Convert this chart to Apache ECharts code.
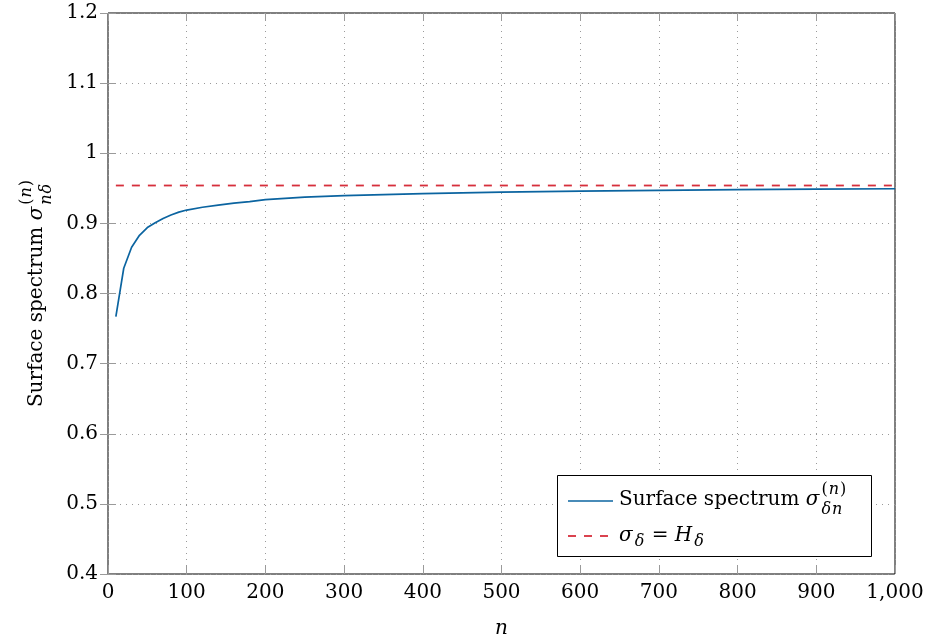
<!DOCTYPE html>
<html>
<head>
<meta charset="utf-8">
<script src="https://cdn.jsdelivr.net/npm/echarts@6/dist/echarts.min.js"></script>
<style>
  html, body { margin: 0; padding: 0; background: #fff; }
  #chart { width: 928px; height: 644px; }
</style>
</head>
<body>
<div id="chart"></div>
<script>
// Truncated surface spectrum against the number of terms n
const nValues = [10, 20, 30, 40, 50, 60, 70, 80, 90, 100,
                 120, 140, 160, 180, 200, 250, 300, 350, 400, 450,
                 500, 600, 700, 800, 900, 1000];
const surfaceSpectrum = [0.767, 0.836, 0.866, 0.883, 0.894, 0.901, 0.907, 0.912, 0.916, 0.919,
                         0.923, 0.926, 0.929, 0.931, 0.934, 0.9375, 0.9395, 0.941, 0.9425, 0.9435,
                         0.9445, 0.946, 0.947, 0.948, 0.9487, 0.9494];
// Limiting value sigma_delta = H_delta, drawn over the same n range
const limitRange = [10, 1000];
const limitValue = 0.954;

const xTickLabels = ['0', '100', '200', '300', '400', '500', '600', '700', '800', '900', '1,000'];
const yTickLabels = ['0.4', '0.5', '0.6', '0.7', '0.8', '0.9', '1', '1.1', '1.2'];

const FONT = '"DejaVu Serif", "Liberation Serif", serif';
const FS = 20;
const SS = 16;          // script size
const BLUE = '#0b64a0';
const RED = '#d62f3c';
const GRID_COLOR = '#9a9a9a';

const chart = echarts.init(document.getElementById('chart'), null, { renderer: 'canvas' });

// Text measuring for the hand-set math labels (sub/superscripts)
const mctx = document.createElement('canvas').getContext('2d');
function measure(t, size, it) {
  mctx.font = (it ? 'italic ' : '') + size + 'px ' + FONT;
  return mctx.measureText(t).width;
}
function txt(t, x, baseline, size, it) {
  return {
    type: 'text', x: x, y: baseline - 0.3 * size,
    style: {
      text: t, fontSize: size, fontFamily: FONT, fontStyle: it ? 'italic' : 'normal',
      fill: '#000', align: 'left', verticalAlign: 'middle'
    }
  };
}
// Lay out runs on a baseline at y = 0; a run is {t, it} or {sub: [...], sup: [...]}
function mathText(parts, size) {
  const els = [];
  let x = 0;
  function runRow(runs, x0, baseline, s) {
    let xx = x0;
    runs.forEach(r => { els.push(txt(r.t, xx, baseline, s, r.it)); xx += measure(r.t, s, r.it) + 1; });
    return xx - x0;
  }
  parts.forEach(p => {
    if (p.t !== undefined) {
      els.push(txt(p.t, x, 0, size, p.it));
      x += measure(p.t, size, p.it);
    } else {
      let w = 0;
      const subDrop = p.sup ? 0.42 * size : 0.25 * size;
      if (p.sub) w = Math.max(w, runRow(p.sub, x + 2, subDrop, SS));
      if (p.sup) w = Math.max(w, runRow(p.sup, x + 2, -0.55 * size, SS));
      x += w + 2;
    }
  });
  return { els: els, width: x };
}

const supN = [{ t: '(' }, { t: 'n', it: true }, { t: ')' }];
const yName = mathText([
  { t: 'Surface spectrum ' }, { t: 'σ', it: true },
  { sub: [{ t: 'n', it: true }, { t: 'δ', it: true }], sup: supN }
], FS);
const leg1 = mathText([
  { t: 'Surface spectrum ' }, { t: 'σ', it: true },
  { sub: [{ t: 'δ', it: true }, { t: 'n', it: true }], sup: supN }
], FS);
const leg2 = mathText([
  { t: 'σ', it: true }, { sub: [{ t: 'δ', it: true }] },
  { t: ' = ' }, { t: 'H', it: true }, { sub: [{ t: 'δ', it: true }] }
], FS);

function shift(els, dx, dy) {
  return els.map(e => Object.assign({}, e, { x: e.x + dx, y: e.y + dy, z: 11 }));
}

const tickStyle = { show: true, inside: true, length: 8, lineStyle: { color: GRID_COLOR, width: 1 } };
const labelFont = { fontFamily: FONT, fontSize: FS, color: '#000' };

const option = {
  animation: false,
  backgroundColor: '#fff',
  grid: { left: 108, right: 33, top: 13, bottom: 70, show: true, borderColor: '#000', borderWidth: 1, backgroundColor: 'transparent' },
  xAxis: [
    {
      type: 'value', min: 0, max: 1000, interval: 100, position: 'bottom',
      axisLine: { show: false },
      axisTick: tickStyle,
      axisLabel: Object.assign({ margin: 9, formatter: v => xTickLabels[Math.round(v / 100)] }, labelFont),
      splitLine: { show: true, lineStyle: { type: [1, 5], color: GRID_COLOR, width: 1 } },
      name: 'n', nameLocation: 'middle', nameGap: 45,
      nameTextStyle: { fontFamily: FONT, fontSize: FS, fontStyle: 'italic', color: '#000' }
    },
    {
      type: 'value', min: 0, max: 1000, interval: 100, position: 'top',
      axisLine: { show: false }, axisTick: tickStyle,
      axisLabel: { show: false }, splitLine: { show: false }
    }
  ],
  yAxis: [
    {
      type: 'value', min: 0.4, max: 1.2, interval: 0.1, position: 'left',
      axisLine: { show: false },
      axisTick: tickStyle,
      axisLabel: Object.assign({ margin: 10, formatter: v => yTickLabels[Math.round((v - 0.4) * 10)] }, labelFont),
      splitLine: { show: true, lineStyle: { type: [1, 5], color: GRID_COLOR, width: 1 } }
    },
    {
      type: 'value', min: 0.4, max: 1.2, interval: 0.1, position: 'right',
      axisLine: { show: false }, axisTick: tickStyle,
      axisLabel: { show: false }, splitLine: { show: false }
    }
  ],
  series: [
    {
      name: 'Surface spectrum', type: 'line', xAxisIndex: 0, yAxisIndex: 0,
      data: nValues.map((n, i) => [n, surfaceSpectrum[i]]),
      showSymbol: false, symbol: 'none', smooth: false, z: 3,
      lineStyle: { color: BLUE, width: 1.7 }
    },
    {
      name: 'Limit', type: 'line', xAxisIndex: 0, yAxisIndex: 0,
      data: limitRange.map(n => [n, limitValue]),
      showSymbol: false, symbol: 'none', z: 4,
      lineStyle: { color: RED, width: 1.8, type: [8, 8] }
    }
  ],
  graphic: [
    // rotated y-axis title
    {
      type: 'group', x: 43, y: 293 + yName.width / 2, rotation: Math.PI / 2,
      children: yName.els
    },
    // legend box
    {
      type: 'group', x: 0, y: 0,
      children: [
        { type: 'rect', shape: { x: 557.5, y: 475.5, width: 314, height: 81 },
          style: { fill: '#fff', stroke: '#000', lineWidth: 1 }, z: 10 },
        { type: 'line', shape: { x1: 568, y1: 501, x2: 613, y2: 501 },
          style: { stroke: BLUE, lineWidth: 1.7 }, z: 11 },
        { type: 'line', shape: { x1: 568, y1: 536, x2: 613, y2: 536 },
          style: { stroke: RED, lineWidth: 1.8, lineDash: [8, 8] }, z: 11 }
      ].concat(shift(leg1.els, 619, 506))
       .concat(shift(leg2.els, 619, 542))
    }
  ]
};

chart.setOption(option);
</script>
</body>
</html>
